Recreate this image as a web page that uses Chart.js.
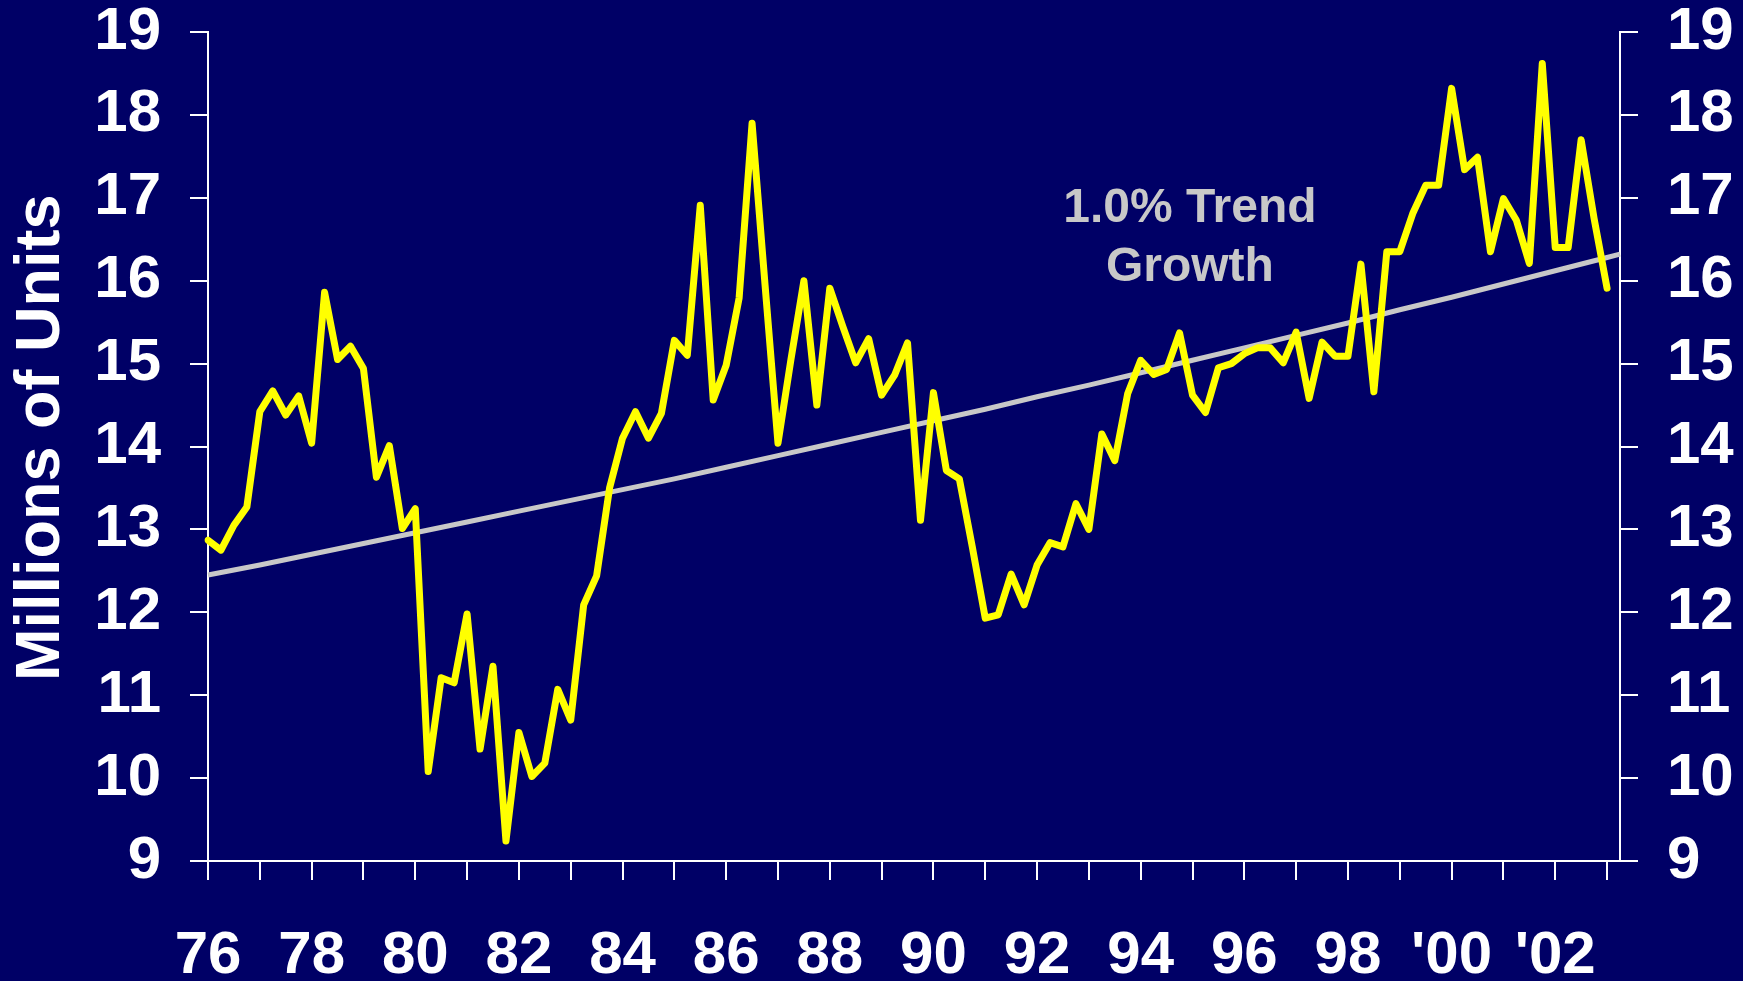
<!DOCTYPE html>
<html>
<head>
<meta charset="utf-8">
<script src="https://cdn.jsdelivr.net/npm/chart.js@4.4.0/dist/chart.umd.min.js"></script>
<style>
  html, body { margin: 0; padding: 0; background: #000066; }
</style>
</head>
<body>
<canvas id="chart" width="1743" height="981"></canvas>
<script>
// quarterly categories, 1976Q1 .. 2003Q2
const years = [1976, 1977, 1978, 1979, 1980, 1981, 1982, 1983, 1984, 1985, 1986, 1987, 1988, 1989,
    1990, 1991, 1992, 1993, 1994, 1995, 1996, 1997, 1998, 1999, 2000, 2001, 2002, 2003]
const quarterLabels = years.flatMap((y) => [y + "Q1", y + "Q2", y + "Q3", y + "Q4"]).slice(0, 110)

// light vehicle sales, millions of units (SAAR), one value per quarter
const sales = [
    12.87, 12.75, 13.05, 13.27,  // 76
    14.42, 14.67, 14.38, 14.61,  // 77
    14.04, 15.86, 15.05, 15.21,  // 78
    14.94, 13.63, 14.01, 13.01,  // 79
    13.25, 10.08, 11.21, 11.15,  // 80
    11.98, 10.35, 11.35, 9.24,   // 81
    10.55, 10.02, 10.18, 11.07,  // 82
    10.70, 12.09, 12.44, 13.50,  // 83
    14.10, 14.42, 14.10, 14.40,  // 84
    15.28, 15.10, 16.91, 14.56,  // 85
    14.98, 15.79, 17.90, 15.95,  // 86
    14.04, 15.05, 16.00, 14.50,  // 87
    15.91, 15.45, 15.01, 15.30,  // 88
    14.62, 14.86, 15.25, 13.11,  // 89
    14.65, 13.71, 13.61, 12.79,  // 90
    11.93, 11.97, 12.46, 12.09,  // 91
    12.57, 12.84, 12.79, 13.31,  // 92
    13.00, 14.15, 13.83, 14.64,  // 93
    15.04, 14.87, 14.93, 15.37,  // 94
    14.62, 14.41, 14.95, 15.00,  // 95
    15.12, 15.19, 15.19, 15.01,  // 96
    15.38, 14.58, 15.26, 15.09,  // 97
    15.09, 16.20, 14.66, 16.35,  // 98
    16.35, 16.81, 17.15, 17.15,  // 99
    18.32, 17.34, 17.49, 16.35,  // 00
    16.99, 16.73, 16.21, 18.62,  // 01
    16.40, 16.40, 17.70, 16.75,  // 02
    15.91,                       // 03
]

// 1.0% trend growth line, read at each year start (+ the right edge)
const trendLabels = ["1976Q1", "1977Q1", "1978Q1", "1979Q1", "1980Q1", "1981Q1", "1982Q1", "1983Q1",
    "1984Q1", "1985Q1", "1986Q1", "1987Q1", "1988Q1", "1989Q1", "1990Q1", "1991Q1", "1992Q1",
    "1993Q1", "1994Q1", "1995Q1", "1996Q1", "1997Q1", "1998Q1", "1999Q1", "2000Q1", "2001Q1",
    "2002Q1", "2003Q1", "2003Q2"]
const trendValues = [12.45, 12.57, 12.70, 12.83, 12.96, 13.09, 13.22, 13.35, 13.48, 13.61, 13.75,
    13.89, 14.03, 14.17, 14.31, 14.45, 14.60, 14.74, 14.89, 15.04, 15.19, 15.34, 15.49, 15.65,
    15.80, 15.96, 16.12, 16.28, 16.32]

const yTicks = { min: 9, max: 19, step: 1 }
const noteLines = ["1.0% Trend", "Growth"]

const NAVY = "#000066"
const FONT = "'Liberation Sans', Arial, Helvetica, sans-serif"

const background = {
    id: "background",
    beforeDraw: (chart) => {
        const ctx = chart.ctx
        ctx.save()
        ctx.fillStyle = NAVY
        ctx.fillRect(0, 0, chart.width, chart.height)
        ctx.restore()
    },
}

// gray "1.0% Trend Growth" note
const trendNote = {
    id: "trendNote",
    afterDatasetsDraw: (chart) => {
        const ctx = chart.ctx
        const xs = chart.scales.x
        const ys = chart.scales.y
        const x = xs.getPixelForValue(75.8)
        ctx.save()
        ctx.fillStyle = "#c8c8c8"
        ctx.font = "bold 48px " + FONT
        ctx.textAlign = "center"
        ctx.textBaseline = "alphabetic"
        ctx.fillText(noteLines[0], x, ys.getPixelForValue(16.71))
        ctx.fillText(noteLines[1], x, ys.getPixelForValue(16.0))
        ctx.restore()
    },
}

const tickFont = { family: FONT, size: 60, weight: "bold", lineHeight: 1.2 }

const yAxis = (position) => ({
    type: "linear",
    position: position,
    min: yTicks.min,
    max: yTicks.max,
    ticks: { stepSize: yTicks.step, color: "#ffffff", font: tickFont, padding: 29 },
    grid: { drawOnChartArea: false, drawTicks: true, tickLength: 18, color: "#ffffff", lineWidth: 2 },
    border: { display: true, color: "#ffffff", width: 2 },
    afterFit: (scale) => {
        scale.width = position === "left" ? 208 : 123
        scale.paddingTop = 0
        scale.paddingBottom = 0
    },
})

const leftAxis = yAxis("left")
leftAxis.title = {
    display: true,
    text: " Millions of Units",
    color: "#ffffff",
    font: { family: FONT, size: 63, weight: "bold", lineHeight: 1.2 },
    padding: { top: 4, bottom: 0 },
}

new Chart(document.getElementById("chart"), {
    type: "line",
    data: {
        labels: quarterLabels,
        datasets: [
            {
                label: "Sales",
                data: sales,
                borderColor: "#ffff00",
                borderWidth: 7,
                borderJoinStyle: "round",
                borderCapStyle: "round",
                pointRadius: 0,
                tension: 0,
                yAxisID: "y",
            },
            {
                label: "1.0% Trend Growth",
                data: trendLabels.map((lab, i) => ({ x: lab, y: trendValues[i] })),
                borderColor: "#c8c8c8",
                borderWidth: 5,
                pointRadius: 0,
                tension: 0,
                spanGaps: true,
                yAxisID: "y",
            },
        ],
    },
    options: {
        responsive: false,
        devicePixelRatio: 1,
        animation: false,
        layout: { padding: { top: 32, left: 0, right: 0, bottom: 0 } },
        plugins: { legend: { display: false }, tooltip: { enabled: false }, title: { display: false } },
        scales: {
            x: {
                type: "category",
                offset: false,
                ticks: {
                    autoSkip: false,
                    maxRotation: 0,
                    minRotation: 0,
                    color: "#ffffff",
                    font: tickFont,
                    padding: 40,
                    callback: (val, i) => {
                        const lab = quarterLabels[i]
                        if (!lab.endsWith("Q1")) return ""
                        const yr = parseInt(lab, 10)
                        if (yr % 2) return ""
                        const short = String(yr).slice(2)
                        return yr >= 2000 ? "'" + short : short
                    },
                },
                grid: {
                    drawOnChartArea: false,
                    drawTicks: true,
                    tickLength: 19,
                    lineWidth: 2,
                    color: (c) => (c.index % 4 === 0 ? "#ffffff" : "rgba(0,0,0,0)"),
                },
                border: { display: true, color: "#ffffff", width: 2 },
                afterFit: (scale) => {
                    scale.height = 120
                    scale.paddingLeft = 0
                    scale.paddingRight = 0
                },
            },
            y: leftAxis,
            y2: yAxis("right"),
        },
    },
    plugins: [background, trendNote],
})
</script>
</body>
</html>
